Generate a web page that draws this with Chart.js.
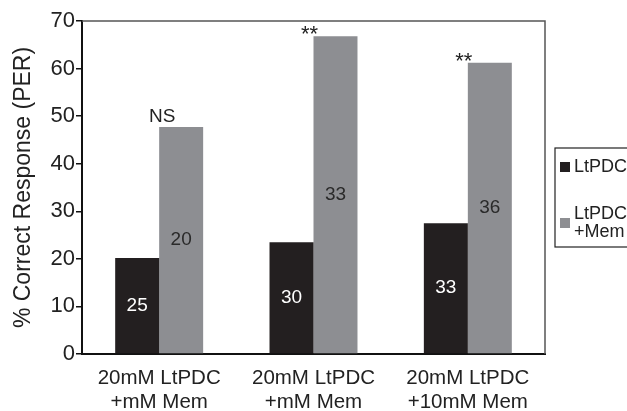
<!DOCTYPE html>
<html>
<head>
<meta charset="utf-8">
<script src="https://cdn.jsdelivr.net/npm/chart.js@4.4.0/dist/chart.umd.min.js"></script>
<style>
  body { margin: 0; background: #fff; }
  #wrap { width: 627px; height: 411px; }
</style>
</head>
<body>
<div id="wrap"><canvas id="perChart"></canvas></div>
<script>
// data
var categories = [['20mM LtPDC', '+mM Mem'], ['20mM LtPDC', '+mM Mem'], ['20mM LtPDC', '+10mM Mem']];
var ltpdc = [20.2, 23.5, 27.5];
var ltpdcMem = [47.7, 66.8, 61.2];
var nLtpdc = [25, 30, 33];
var nLtpdcMem = [20, 33, 36];
var significance = ['NS', '**', '**'];
var legendLabels = [['LtPDC'], ['LtPDC', '+Mem']];

var black = '#231f20';
var gray = '#8d8e92';
var font = '"Liberation Sans", Arial, sans-serif';

// frame, counts inside bars, significance marks, legend box
var extras = {
  id: 'extras',
  afterDatasetsDraw: function(chart) {
    var c = chart.ctx, a = chart.chartArea;
    c.save();
    c.strokeStyle = '#555';
    c.lineWidth = 1.5;
    c.beginPath();
    c.moveTo(a.left, a.top);
    c.lineTo(a.right, a.top);
    c.lineTo(a.right, a.bottom);
    c.stroke();

    c.textAlign = 'center';
    c.textBaseline = 'middle';
    c.font = '19px ' + font;
    var counts = [nLtpdc, nLtpdcMem];
    [0, 1].forEach(function(d) {
      chart.getDatasetMeta(d).data.forEach(function(bar, i) {
        c.fillStyle = d === 0 ? '#fff' : '#2a2a2a';
        c.fillText(String(counts[d][i]), bar.x, (bar.y + bar.base) / 2);
      });
    });

    c.textBaseline = 'bottom';
    c.fillStyle = '#222';
    chart.getDatasetMeta(1).data.forEach(function(bar, i) {
      var cx = chart.scales.x.getPixelForValue(i);
      if (significance[i] === 'NS') {
        c.font = '19px ' + font;
        c.fillText(significance[i], cx + 3, bar.y - 1);
      } else {
        c.font = '22px ' + font;
        c.fillText(significance[i], cx - 4, bar.y + 10);
      }
    });

    // legend
    var lx = a.right + 10, ly = 148;
    c.strokeStyle = '#222';
    c.lineWidth = 1.2;
    c.strokeRect(lx, ly, 90, 99);
    c.font = '18px ' + font;
    c.textAlign = 'left';
    c.textBaseline = 'middle';
    var rows = [167, 214];
    legendLabels.forEach(function(lines, k) {
      var ds = chart.data.datasets[k];
      c.fillStyle = ds.backgroundColor;
      var sy = k === 0 ? rows[k] : rows[k] + 9;
      c.fillRect(lx + 5, sy - 5, 10, 10);
      c.fillStyle = '#222';
      lines.forEach(function(t, j) {
        c.fillText(t, lx + 19, rows[k] + j * 18);
      });
    });
    c.restore();
  }
};

new Chart(document.getElementById('perChart'), {
  type: 'bar',
  data: {
    labels: categories,
    datasets: [{
      label: 'LtPDC',
      data: ltpdc,
      backgroundColor: black,
      barPercentage: 1,
      categoryPercentage: 0.57
    }, {
      label: 'LtPDC +Mem',
      data: ltpdcMem,
      backgroundColor: gray,
      barPercentage: 1,
      categoryPercentage: 0.57
    }]
  },
  options: {
    responsive: true,
    maintainAspectRatio: false,
    animation: false,
    layout: { padding: { top: 21, right: 82, left: 0, bottom: 0 } },
    plugins: {
      legend: { display: false },
      tooltip: { enabled: false }
    },
    scales: {
      x: {
        afterFit: function(s) { s.height = 57; },
        grid: { display: false },
        border: { color: '#111', width: 2 },
        ticks: { color: '#222', font: { family: font, size: 20.5, lineHeight: 1.15 }, padding: 5 }
      },
      y: {
        min: 0,
        max: 70,
        afterFit: function(s) { s.width = 82; },
        grid: { drawOnChartArea: false, drawTicks: true, tickLength: 6, color: '#111', lineWidth: 1.5 },
        border: { color: '#111', width: 2 },
        ticks: { stepSize: 10, color: '#222', font: { family: font, size: 22 }, padding: 1 },
        title: {
          display: true,
          text: '% Correct Response (PER)',
          color: '#222',
          font: { family: font, size: 23 },
          padding: { top: 10, bottom: 0 }
        }
      }
    }
  },
  plugins: [extras]
});
</script>
</body>
</html>
